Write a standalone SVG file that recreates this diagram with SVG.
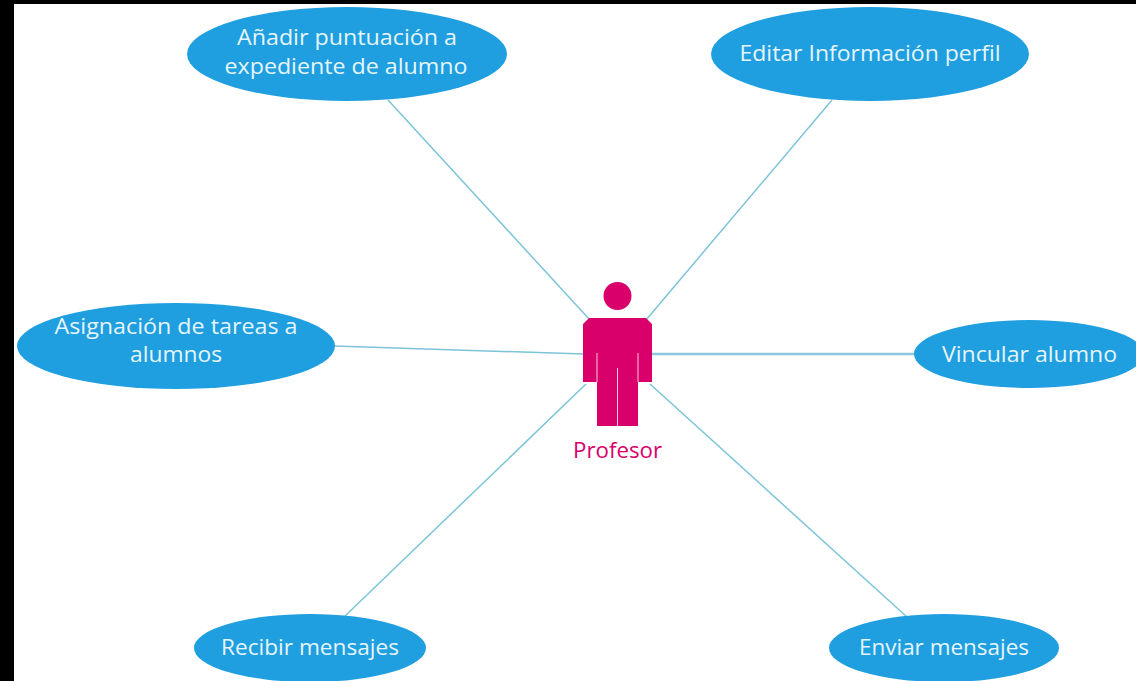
<svg xmlns="http://www.w3.org/2000/svg" width="1136" height="681" viewBox="0 0 1136 681">
<style>
.u{fill:#1f9fdf}
.t{font-family:"Open Sans","Noto Sans",sans-serif;font-size:22px;fill:#e6f5fc;text-anchor:middle}
.c{stroke:#7cc4d8;stroke-width:1.500;fill:none}
.a{fill:#d9006c}
.g{stroke:#f7c6de;stroke-width:1;fill:none}
</style>
<rect width="1136" height="681" fill="#000"/>
<rect x="14" y="4" width="1122" height="677" fill="#fff"/>
<g id="connectors">
<line class="c" x1="388" y1="100" x2="590" y2="320"/>
<line class="c" x1="832" y1="100" x2="646" y2="320"/>
<line class="c" x1="334" y1="346" x2="584" y2="354"/>
<line class="c" x1="652" y1="354" x2="915" y2="354" style="stroke-width:2.500;stroke:#8cc8dc"/>
<line class="c" x1="344" y1="617" x2="586" y2="384"/>
<line class="c" x1="907" y1="617" x2="650" y2="384"/>
</g>
<g id="actor"><circle class="a" cx="617.500" cy="296" r="14"/><path class="a" d="M589 318H646L652 324V382H638V426H597V382H583V324Z"/><path class="g" d="M597 353V382M638 353V382M617.500 368V426"/><text x="617.500" y="458" font-family="Open Sans,Noto Sans,sans-serif" font-size="22" fill="#d9006c" text-anchor="middle" textLength="89" lengthAdjust="spacingAndGlyphs">Profesor</text></g>
<g id="uc1"><ellipse class="u" cx="347" cy="54" rx="160" ry="47"/><text class="t" x="347" y="45" textLength="220" lengthAdjust="spacingAndGlyphs">Añadir puntuación a</text><text class="t" x="346" y="74" textLength="243" lengthAdjust="spacingAndGlyphs">expediente de alumno</text></g>
<g id="uc2"><ellipse class="u" cx="870" cy="54" rx="159" ry="47"/><text class="t" x="870" y="61" textLength="261" lengthAdjust="spacingAndGlyphs">Editar Información perfil</text></g>
<g id="uc3"><ellipse class="u" cx="176" cy="346" rx="159" ry="43"/><text class="t" x="176" y="334" textLength="243" lengthAdjust="spacingAndGlyphs">Asignación de tareas a</text><text class="t" x="176" y="362" textLength="92" lengthAdjust="spacingAndGlyphs">alumnos</text></g>
<g id="uc4"><ellipse class="u" cx="1029" cy="354" rx="115" ry="34"/><text class="t" x="1029.500" y="362" textLength="175" lengthAdjust="spacingAndGlyphs">Vincular alumno</text></g>
<g id="uc5"><ellipse class="u" cx="310" cy="648" rx="116" ry="34"/><text class="t" x="310" y="655" textLength="178" lengthAdjust="spacingAndGlyphs">Recibir mensajes</text></g>
<g id="uc6"><ellipse class="u" cx="944" cy="648" rx="115" ry="34"/><text class="t" x="944" y="655" textLength="170" lengthAdjust="spacingAndGlyphs">Enviar mensajes</text></g>
</svg>
